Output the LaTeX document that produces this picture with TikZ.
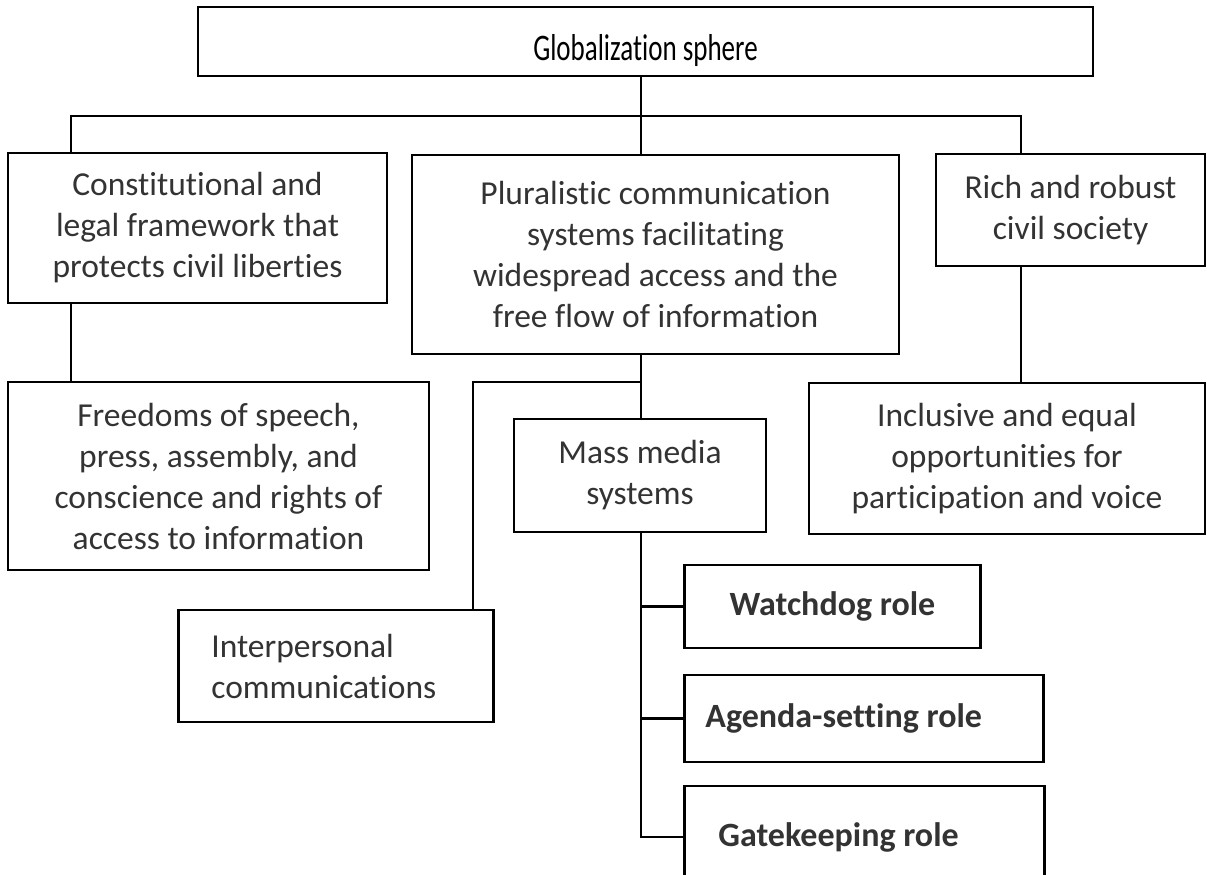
\documentclass[tikz,border=0pt]{standalone}
\usepackage{fontspec}
\setmainfont[Ligatures=NoCommon]{Carlito}
\begin{document}
\begin{tikzpicture}[x=1pt,y=-1pt,line width=2.8pt,
    box/.style={draw, rectangle, align=center, inner sep=0pt, text=black!80,
      font=\fontsize{33.5}{41}\selectfont},
    rolebox/.style={box, anchor=west, font=\bfseries\fontsize{34}{41}\selectfont}]
  \clip (0,0) rectangle (1207,875);
  \fill[white] (0,0) rectangle (1207,875);
  \node[box, minimum width=895, minimum height=69, text=black, text height=39pt,
    text depth=0pt, font=\fontsize{30}{34}\selectfont] (glob) at (645.5,41.5)
    {\scalebox{0.9}[1.25]{Globalization sphere}};
  \node[box, minimum width=379, minimum height=150] (const) at (197.5,228)
    {Constitutional and\\legal framework that\\protects civil liberties};
  \node[box, minimum width=487, minimum height=199] (plural) at (655.5,254.5)
    {Pluralistic communication\\systems facilitating\\widespread access and the\\free flow of information};
  \node[box, minimum width=269, minimum height=112] (civil) at (1070.5,210)
    {Rich and robust\\civil society};
  \node[box, minimum width=421, minimum height=188] (freedoms) at (218.5,476)
    {Freedoms of speech,\\press, assembly, and\\conscience and rights of\\access to information};
  \node[box, minimum width=252, minimum height=113] (mass) at (640,475.5)
    {Mass media\\systems};
  \node[box, minimum width=396, minimum height=151] (incl) at (1007,458.5)
    {Inclusive and equal\\opportunities for\\participation and voice};
  \node[box, anchor=west, align=flush left, text width=249, inner xsep=33,
    minimum height=112] (inter) at (177,666) {Interpersonal\\communications};
  \node[rolebox, minimum width=296, minimum height=83] (watch) at (683,606.5)
    {Watchdog role};
  \node[rolebox, align=flush left, text width=317, inner xsep=21,
    minimum height=87] (agenda) at (683,718.5) {Agenda-setting role};
  \node[rolebox, align=flush left, text width=292, inner xsep=34,
    minimum height=102] (gate) at (683,837) {Gatekeeping role};

  \coordinate (c1) at (71,116);
  \coordinate (hub) at (641,116);
  \coordinate (c3) at (1021,116);
  \coordinate (mid) at (641,382);
  \coordinate (c4) at (473,382);

  \draw (glob.south -| hub) -- (hub);
  \draw (const.north -| c1) |- (hub) -| (civil.north -| c3);
  \draw (hub) -- (plural.north -| hub);
  \draw (const.south -| c1) -- (freedoms.north -| c1);
  \draw (civil.south -| c3) -- (incl.north -| c3);
  \draw (plural.south -| mid) -- (mass.north -| mid);
  \draw (mid) -- (c4) -- (inter.north -| c4);
  \draw (mass.south -| mid) |- (gate.west);
  \draw (watch.west -| mid) -- (watch.west);
  \draw (agenda.west -| mid) -- (agenda.west);
\end{tikzpicture}
\end{document}
